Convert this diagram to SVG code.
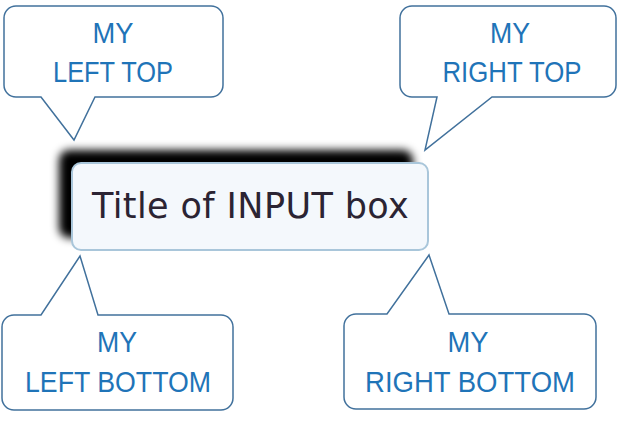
<svg xmlns="http://www.w3.org/2000/svg" width="620" height="422" viewBox="0 0 620 422">
<defs>
<filter id="blur" x="-20%" y="-40%" width="140%" height="180%"><feGaussianBlur stdDeviation="4"/></filter>
<style>
.bubble{fill:#ffffff;stroke:#41719c;stroke-width:1.5;stroke-linejoin:miter}
.lbl{font-family:"Liberation Sans",Arial,sans-serif;font-size:29px;fill:#1f74b8;text-anchor:middle}
.title{font-family:"DejaVu Sans",Verdana,sans-serif;font-size:35px;fill:#2b2433;letter-spacing:0.4px}
</style>
</defs>
<rect width="620" height="422" fill="#ffffff"/>
<g id="input-box">
<rect x="59" y="150" width="354" height="88" rx="10" fill="#000000" filter="url(#blur)"/>
<rect x="72" y="163" width="356" height="87" rx="9" fill="#f4f8fc" stroke="#a9c6da" stroke-width="2"/>
<text class="title" x="92" y="218">Title of INPUT box</text>
</g>
<g id="left-top">
<path class="bubble" d="M16,6 H211 A12,12 0 0 1 223,18 V85 A12,12 0 0 1 211,97 H95 L74,140 L41,97 H16 A12,12 0 0 1 4,85 V18 A12,12 0 0 1 16,6 Z"/>
<text class="lbl" x="113" y="43" textLength="41" lengthAdjust="spacingAndGlyphs">MY</text>
<text class="lbl" x="113" y="82" textLength="120" lengthAdjust="spacingAndGlyphs">LEFT TOP</text>
</g>
<g id="right-top">
<path class="bubble" d="M412,6 H604 A12,12 0 0 1 616,18 V85 A12,12 0 0 1 604,97 H492 L425,150 L437,97 H412 A12,12 0 0 1 400,85 V18 A12,12 0 0 1 412,6 Z"/>
<text class="lbl" x="510" y="43" textLength="40" lengthAdjust="spacingAndGlyphs">MY</text>
<text class="lbl" x="512" y="82" textLength="139" lengthAdjust="spacingAndGlyphs">RIGHT TOP</text>
</g>
<g id="left-bottom">
<path class="bubble" d="M14,315 H41 L80,256 L98,315 H221 A12,12 0 0 1 233,327 V398 A12,12 0 0 1 221,410 H14 A12,12 0 0 1 2,398 V327 A12,12 0 0 1 14,315 Z"/>
<text class="lbl" x="117" y="352" textLength="40" lengthAdjust="spacingAndGlyphs">MY</text>
<text class="lbl" x="118" y="392" textLength="186" lengthAdjust="spacingAndGlyphs">LEFT BOTTOM</text>
</g>
<g id="right-bottom">
<path class="bubble" d="M356,314 H387 L429,255 L449,314 H584 A12,12 0 0 1 596,326 V397 A12,12 0 0 1 584,409 H356 A12,12 0 0 1 344,397 V326 A12,12 0 0 1 356,314 Z"/>
<text class="lbl" x="468" y="352" textLength="41" lengthAdjust="spacingAndGlyphs">MY</text>
<text class="lbl" x="470" y="392" textLength="210" lengthAdjust="spacingAndGlyphs">RIGHT BOTTOM</text>
</g>
<g id="connectors"/>
</svg>
